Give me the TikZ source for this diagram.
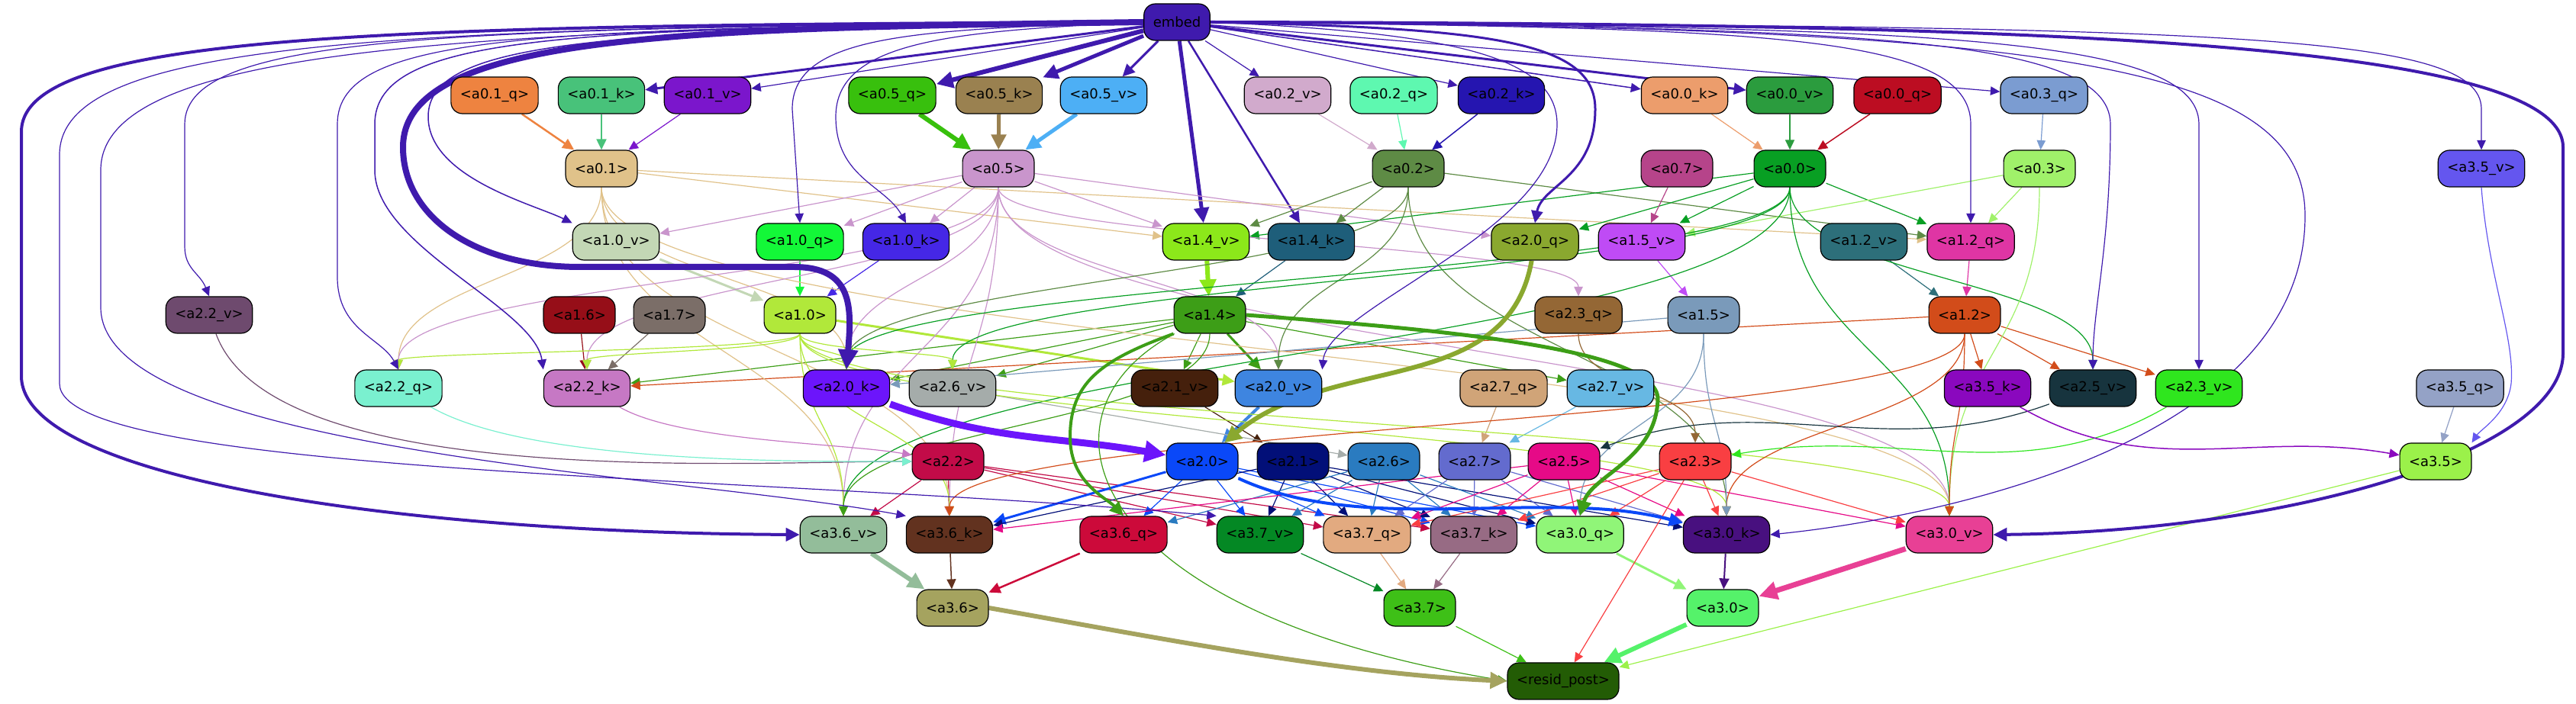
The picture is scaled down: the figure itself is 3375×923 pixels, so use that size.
\documentclass[tikz,border=0pt]{standalone}
\usepackage{fontspec}
\setmainfont{DejaVu Sans}
\usetikzlibrary{arrows.meta,calc}

% Colours of the heads
\definecolor{embed}{HTML}{3F1AAD}
\definecolor{a01q}{HTML}{EE8340}
\definecolor{a01k}{HTML}{48C27A}
\definecolor{a01v}{HTML}{7B16CC}
\definecolor{a05q}{HTML}{38C00D}
\definecolor{a05k}{HTML}{9A8150}
\definecolor{a05v}{HTML}{4DAFF5}
\definecolor{a02v}{HTML}{D1AACC}
\definecolor{a02q}{HTML}{5EF8B0}
\definecolor{a02k}{HTML}{2515B0}
\definecolor{a00k}{HTML}{EC9D6C}
\definecolor{a00v}{HTML}{2B9C3E}
\definecolor{a00q}{HTML}{BC0D22}
\definecolor{a03q}{HTML}{7B9CD1}
\definecolor{a01}{HTML}{E0C28A}
\definecolor{a05}{HTML}{C995CC}
\definecolor{a02}{HTML}{5E8B45}
\definecolor{a07}{HTML}{B6448A}
\definecolor{a00}{HTML}{089F23}
\definecolor{a03}{HTML}{A0F16A}
\definecolor{a35v}{HTML}{6456EF}
\definecolor{a10v}{HTML}{C3D7B5}
\definecolor{a10q}{HTML}{13F838}
\definecolor{a10k}{HTML}{4527E6}
\definecolor{a14v}{HTML}{8CE81A}
\definecolor{a14k}{HTML}{1E5E7A}
\definecolor{a20q}{HTML}{8AA82F}
\definecolor{a15v}{HTML}{BF4BF5}
\definecolor{a12v}{HTML}{2D6F7A}
\definecolor{a12q}{HTML}{DF35A4}
\definecolor{a22v}{HTML}{6E4A6E}
\definecolor{a16}{HTML}{960E18}
\definecolor{a17}{HTML}{7B6E68}
\definecolor{a10}{HTML}{B1E83A}
\definecolor{a14}{HTML}{3D9E17}
\definecolor{a23q}{HTML}{946735}
\definecolor{a15}{HTML}{7A9ABA}
\definecolor{a12}{HTML}{D24C1A}
\definecolor{a22q}{HTML}{7AF0CF}
\definecolor{a22k}{HTML}{C678C4}
\definecolor{a20k}{HTML}{6C15FB}
\definecolor{a26v}{HTML}{A5ACAA}
\definecolor{a21v}{HTML}{45200C}
\definecolor{a20v}{HTML}{3E85E0}
\definecolor{a27q}{HTML}{D0A478}
\definecolor{a27v}{HTML}{67B8E3}
\definecolor{a35k}{HTML}{8A08BE}
\definecolor{a25v}{HTML}{17343E}
\definecolor{a23v}{HTML}{2FE61E}
\definecolor{a35q}{HTML}{94A2C6}
\definecolor{a22}{HTML}{C20B48}
\definecolor{a20}{HTML}{0A48F8}
\definecolor{a21}{HTML}{020F78}
\definecolor{a26}{HTML}{2A7BC0}
\definecolor{a27}{HTML}{636BCE}
\definecolor{a25}{HTML}{E60A87}
\definecolor{a23}{HTML}{F93F42}
\definecolor{a35}{HTML}{9BF14A}
\definecolor{a36v}{HTML}{93BD9A}
\definecolor{a36k}{HTML}{62321F}
\definecolor{a36q}{HTML}{CC0A3A}
\definecolor{a37v}{HTML}{048824}
\definecolor{a37q}{HTML}{E2AA80}
\definecolor{a37k}{HTML}{976B84}
\definecolor{a30q}{HTML}{90F578}
\definecolor{a30k}{HTML}{48107F}
\definecolor{a30v}{HTML}{E84095}
\definecolor{a36}{HTML}{A5A35F}
\definecolor{a37}{HTML}{3EC017}
\definecolor{a30}{HTML}{55F26A}
\definecolor{resid}{HTML}{235C05}

\pgfdeclarelayer{edges}
\pgfsetlayers{edges,main}

\begin{document}
\begin{tikzpicture}[x=1pt, y=1pt,
    head/.style={draw=black, line width=1.2pt, rounded corners=15pt, minimum height=48pt,
        inner xsep=12pt, inner ysep=0pt, text=black, font=\fontsize{18}{22}\selectfont},
    link/.style={line width=#1, -{Triangle[length=10pt 2, width=9pt 2]}},
    sbend/.style={to path={.. controls ($(\tikztostart)!0.5!(\tikztostart |- \tikztotarget)$)
        and ($(\tikztotarget)!0.5!(\tikztotarget |- \tikztostart)$) .. (\tikztotarget) \tikztonodes}}]
    \useasboundingbox (0,0) rectangle (3375,923);

    % Draw the heads, row by row
    \foreach \n/\x/\y/\t in {embed/1542/894/embed,
        a01q/648/798/<a0.1\_q>, a01k/788/798/<a0.1\_k>, a01v/927/798/<a0.1\_v>,
        a05q/1169/798/<a0.5\_q>, a05k/1309/798/<a0.5\_k>, a05v/1446/798/<a0.5\_v>,
        a02v/1687/798/<a0.2\_v>, a02q/1826/798/<a0.2\_q>, a02k/1967/798/<a0.2\_k>,
        a00k/2207/798/<a0.0\_k>, a00v/2345/798/<a0.0\_v>, a00q/2486/798/<a0.0\_q>,
        a03q/2678/798/<a0.3\_q>,
        a01/788/702/<a0.1>, a05/1308/702/<a0.5>, a02/1845/702/<a0.2>, a07/2197/702/<a0.7>,
        a00/2345/702/<a0.0>, a03/2672/702/<a0.3>, a35v/3251/702/<a3.5\_v>,
        a10v/807/606/<a1.0\_v>, a10q/1048/606/<a1.0\_q>, a10k/1187/606/<a1.0\_k>,
        a14v/1580/606/<a1.4\_v>, a14k/1718/606/<a1.4\_k>, a20q/2011/606/<a2.0\_q>,
        a15v/2151/606/<a1.5\_v>, a12v/2442/606/<a1.2\_v>, a12q/2582/606/<a1.2\_q>,
        a22v/274/510/<a2.2\_v>, a16/759/510/<a1.6>, a17/877/510/<a1.7>, a10/1048/510/<a1.0>,
        a14/1585/510/<a1.4>, a23q/2068/510/<a2.3\_q>, a15/2232/510/<a1.5>, a12/2574/510/<a1.2>,
        a22q/522/414/<a2.2\_q>, a22k/769/414/<a2.2\_k>, a20k/1109/414/<a2.0\_k>,
        a26v/1248/414/<a2.6\_v>, a21v/1539/414/<a2.1\_v>, a20v/1675/414/<a2.0\_v>,
        a27q/1970/414/<a2.7\_q>, a27v/2110/414/<a2.7\_v>, a35k/2604/414/<a3.5\_k>,
        a25v/2742/414/<a2.5\_v>, a23v/2881/414/<a2.3\_v>, a35q/3223/414/<a3.5\_q>,
        a22/1242/318/<a2.2>, a20/1575/318/<a2.0>, a21/1694/318/<a2.1>, a26/1813/318/<a2.6>,
        a27/1932/318/<a2.7>, a25/2049/318/<a2.5>, a23/2221/318/<a2.3>, a35/3191/318/<a3.5>,
        a36v/1105/222/<a3.6\_v>, a36k/1244/222/<a3.6\_k>, a36q/1472/222/<a3.6\_q>,
        a37v/1651/222/<a3.7\_v>, a37q/1791/222/<a3.7\_q>, a37k/1931/222/<a3.7\_k>,
        a30q/2070/222/<a3.0\_q>, a30k/2262/222/<a3.0\_k>, a30v/2554/222/<a3.0\_v>,
        a36/1248/126/<a3.6>, a37/1860/126/<a3.7>, a30/2257/126/<a3.0>,
        resid/2048/30/<resid\_post>}
        \node[head, fill=\n] (\n) at (\x,\y) {\t};

    \begin{pgfonlayer}{edges}
    % Straight edges
    \foreach \s/\t/\w in {embed/a01k/3, embed/a01v/1.2, embed/a05q/6, embed/a05k/5, embed/a05v/3,
        embed/a02v/1.2, embed/a02k/1.2, embed/a00k/1.5, embed/a00v/3, embed/a03q/1.2,
        embed/a14v/5, embed/a14k/2.5,
        a01q/a01/2.5, a01k/a01/2, a01v/a01/1.2, a05q/a05/6, a05k/a05/5, a05v/a05/5,
        a02v/a02/1.2, a02q/a02/1.2, a02k/a02/1.5, a00k/a00/1.2, a00v/a00/1.5, a00q/a00/1.5,
        a03q/a03/1.2,
        a01/a14v/1.2, a01/a12q/1.2, a05/a10v/1.2, a05/a10q/1.2, a05/a10k/1.2, a05/a14v/1.2,
        a05/a20q/1.2, a02/a14v/1.2, a02/a14k/1.2, a02/a12q/1.2, a00/a14v/1.2, a00/a20q/1.2,
        a00/a15v/1.2, a00/a12q/1.2, a03/a15v/1.2, a03/a12q/1.2, a07/a15v/1.2,
        a10v/a10/3, a10q/a10/1.2, a10k/a10/1.2, a14v/a14/6, a14k/a14/1.2, a15v/a15/1.2,
        a12v/a12/1.2, a12q/a12/1.2,
        a16/a22k/1.2, a17/a22k/1.2, a10/a20v/3, a14/a20v/3, a14/a21v/1.2, a14/a26v/1.2,
        a14/a20k/1.2, a14/a22k/1.2, a14/a27v/1.2, a12/a22k/1.2, a12/a35k/1.2, a12/a25v/1.2,
        a12/a23v/1.2, a15/a20k/1.2,
        a20v/a20/4, a21v/a21/1.2, a26v/a26/1.2, a27q/a27/1.2, a27v/a27/1.2, a35q/a35/1.2,
        a22/a36v/1.2, a22/a36k/1.2, a22/a37v/1.2, a22/a37q/1.2, a22/a37k/1.2,
        a20/a36k/3, a20/a36q/1.2, a20/a37v/1.2, a20/a37q/1.2, a20/a37k/1.2, a20/a30q/1.2,
        a21/a36k/1.2, a21/a37v/1.2, a21/a37q/1.2, a21/a37k/1.2, a21/a30q/1.2, a21/a30k/1.2,
        a26/a36q/1.2, a26/a37v/1.2, a26/a37q/1.2, a26/a37k/1.2, a26/a30q/1.2,
        a27/a37q/1.2, a27/a37k/1.2, a27/a30q/1.2, a27/a30k/1.2,
        a25/a36k/1.2, a25/a37q/1.2, a25/a37k/1.2, a25/a30q/1.2, a25/a30k/1.2, a25/a30v/1.2,
        a23/a37q/1.2, a23/a37k/1.2, a23/a30q/1.2, a23/a30k/1.2, a23/a30v/1.2,
        a36v/a36/6, a36k/a36/1.5, a36q/a36/2.5, a37v/a37/1.2, a37q/a37/1.2, a37k/a37/1.2,
        a30q/a30/3, a30k/a30/2, a30v/a30/7,
        a37/resid/1.2, a30/resid/6, a35/resid/1.2, a23/resid/1.2}
        \draw[link=\w pt, color=\s] (\s) -- (\t);

    % Curved edges over several rows
    \foreach \s/\t/\w in {a01/a22q/1.2, a01/a20k/1.2, a01/a36v/1.2, a01/a36k/1.2, a01/a30v/1.2,
        a05/a22q/1.2, a05/a22k/1.2, a05/a20k/1.2, a05/a20v/1.2, a05/a36v/1.2, a05/a36k/1.2,
        a05/a30v/1.2, a05/a23q/1.2,
        a02/a20v/1.2, a02/a20k/1.2, a02/a30k/1.2,
        a00/a25v/1.2, a00/a30v/1.2, a00/a36v/1.2, a00/a26v/1.2, a00/a20k/1.2,
        a03/a30v/1.2,
        a10/a22q/1.2, a10/a22k/1.2, a10/a20k/1.2, a10/a26v/1.2, a10/a36k/1.2, a10/a36v/1.2,
        a10/a30k/1.2, a10/a30v/1.2,
        a14/a36v/1.2, a12/a36k/1.2, a12/a30k/1.2, a12/a30v/1.2,
        a15/a30k/1.2, a15/a30q/1.2, a23q/a23/1.2}
        \draw[link=\w pt, color=\s] (\s) to[sbend] (\t);

    % embed to the heads on its left
    \draw[link=1.5pt, color=embed] (embed.west) .. controls (800,884) and (561,872) .. (561,770)
        .. controls (561,690) and (700,655) .. (a10v.north west);
    \draw[link=1.2pt, color=embed] (embed.west) .. controls (1200,884) and (1038,878) .. (1038,780)
        -- (a10q.north);
    \draw[link=1.2pt, color=embed] (embed.west) .. controls (1250,882) and (1095,870) .. (1095,770)
        .. controls (1095,690) and (1160,680) .. (a10k.north);
    \draw[link=1.2pt, color=embed] (embed.west) .. controls (600,886) and (242,880) .. (242,760)
        -- (242,600) .. controls (242,570) and (262,565) .. (a22v.north);
    \draw[link=1.2pt, color=embed] (embed.west) .. controls (700,886) and (442,880) .. (442,760)
        -- (442,560) .. controls (442,490) and (500,480) .. (a22q.north);
    \draw[link=1.5pt, color=embed] (embed.west) .. controls (750,886) and (491,880) .. (491,760)
        -- (491,700) .. controls (491,600) and (700,520) .. (a22k.north west);

    % embed to the heads on its right
    \draw[link=3pt, color=embed] (embed.east) .. controls (1950,886) and (2090,870) .. (2090,780)
        .. controls (2090,690) and (2020,680) .. (a20q.north);
    \draw[link=1.2pt, color=embed] (embed.east) .. controls (1900,880) and (2040,850) .. (2040,760)
        .. controls (2040,620) and (1740,520) .. (a20v.north east);
    \draw[link=1.2pt, color=embed] (embed.east) .. controls (2300,886) and (2582,880) .. (2582,760)
        -- (a12q.north);
    \draw[link=1.2pt, color=embed] (embed.east) .. controls (2400,886) and (2765,880) .. (2765,760)
        .. controls (2765,600) and (2742,520) .. (a25v.north);
    \draw[link=1.2pt, color=embed] (embed.east) .. controls (2500,887) and (2881,880) .. (2881,760)
        -- (a23v.north);
    \draw[link=1.2pt, color=embed] (embed.east) .. controls (2900,888) and (3251,882) .. (3251,780)
        -- (a35v.north);
    \draw[link=1.2pt, color=embed] (embed.east) .. controls (2700,888) and (3020,840) .. (3020,640)
        .. controls (3020,330) and (2500,240) .. (a30k.east);

    % Long edges out of embed
    \draw[link=8pt, color=embed] (embed.west) .. controls (900,886) and (528,880) .. (528,730)
        .. controls (528,640) and (620,573) .. (760,573) -- (1040,573)
        .. controls (1118,573) and (1116,520) .. (a20k.north);
    \draw[link=4pt, color=embed] (embed.west) .. controls (500,890) and (28,880) .. (28,750)
        -- (28,430) .. controls (28,300) and (500,225) .. (a36v.west);
    \draw[link=4pt, color=embed] (embed.east) .. controls (2600,892) and (3358,875) .. (3358,730)
        -- (3358,460) .. controls (3358,330) and (3000,226) .. (a30v.east);
    \draw[link=1.2pt, color=embed] (embed.west) .. controls (500,888) and (78,870) .. (78,720)
        -- (78,420) .. controls (78,300) and (1000,300) .. (a37v.north west);
    \draw[link=1.2pt, color=embed] (embed.west) .. controls (600,886) and (132,860) .. (132,700)
        -- (132,520) .. controls (132,330) and (900,300) .. (a36k.north west);

    % Edges into the sides of the heads
    \draw[link=1.2pt, color=a22v] (a22v) to[out=-70, in=180, looseness=0.6] (a22);
    \draw[link=1.2pt, color=a22q] (a22q) to[out=-30, in=180, looseness=0.6] (a22);
    \draw[link=1.2pt, color=a22k] (a22k) to[out=-30, in=170, looseness=0.6] (a22);
    \draw[link=1.2pt, color=a25v] (a25v) to[out=-160, in=20] (a25);
    \draw[link=1.2pt, color=a23v] (a23v) to[out=-150, in=10] (a23);
    \draw[link=1.5pt, color=a35k] (a35k) to[out=-30, in=170] (a35);
    \draw[link=1.2pt, color=a35v] (a35v.south) .. controls (3260,560) and (3295,480) .. (3290,420)
        .. controls (3285,380) and (3250,360) .. (a35.north east);
    \draw[link=9pt, color=a20k] (a20k) to[out=-20, in=170] (a20);
    \draw[link=6pt, color=a20q] (a20q) to[out=-100, in=40] (a20);
    \draw[link=4pt, color=a20] (a20) to[out=-25, in=165, looseness=0.8] (a30k);

    % Thick edges out of a1.4 and a3.6
    \draw[link=5pt, color=a14] (a14.east) .. controls (1900,490) and (2172,465) .. (2172,400)
        .. controls (2170,320) and (2085,300) .. (a30q.north);
    \draw[link=4pt, color=a14] (a14.south west) .. controls (1440,450) and (1402,420) .. (1402,350)
        .. controls (1402,290) and (1450,270) .. (a36q.north);
    \draw[link=1.2pt, color=a14] (a14) .. controls (1340,380) and (1420,120) .. (resid.west);
    \draw[link=6pt, color=a36] (a36.east) .. controls (1500,90) and (1750,40) .. (resid.west);
    \end{pgfonlayer}
\end{tikzpicture}
\end{document}
